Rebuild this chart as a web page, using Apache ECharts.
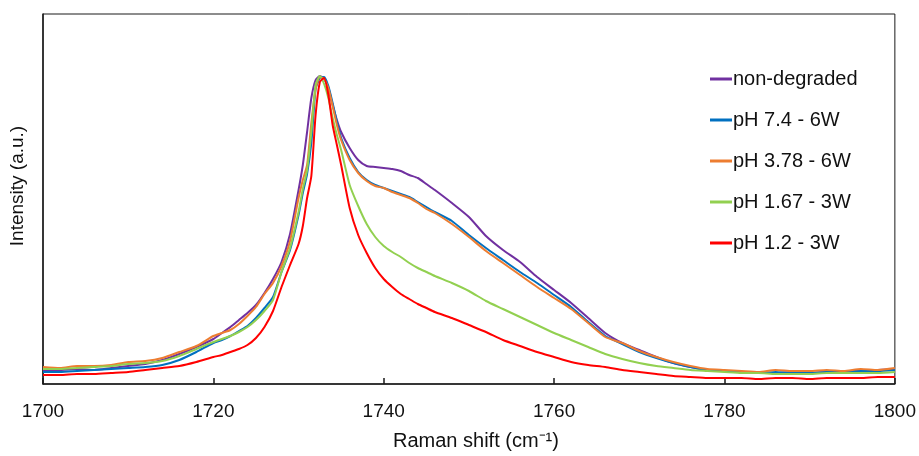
<!DOCTYPE html>
<html>
<head>
<meta charset="utf-8">
<script src="https://cdn.jsdelivr.net/npm/echarts@6/dist/echarts.min.js"></script>
<style>html,body{margin:0;padding:0;background:#fff}#c{width:919px;height:456px}</style>
</head>
<body>
<div id="c"></div>
<script>
// Raman shift (cm-1)
var shifts = [1700,1702,1704,1706,1708,1710,1712,1714,1716,1718,1720,
  1721,1722,1723,1724,1725,1726,1727,1728,1729,1730,
  1730.5,1731,1731.5,1732,1732.5,1733,1733.5,1734,1734.5,1735,
  1736,1737,1738,1739,1740,1741,1742,1743,1744,1745,
  1746,1748,1750,1752,1754,1756,1758,1760,1762,1764,
  1766,1768,1770,1772,1774,1776,1778,1780,1782,1784,
  1786,1788,1790,1792,1794,1796,1798,1800];

var seriesNames = ['non-degraded','pH 7.4 - 6W','pH 3.78 - 6W','pH 1.67 - 3W','pH 1.2 - 3W'];

// intensities (a.u.)
var nonDegraded = [13,14,15,14,16,18,20,24,30,37,45,
  51,57,64,71,79,91,105,122,150,194,
  219,252,286,304,308,305,296,279,264,252,
  236,224,218,217,216,215,213,209,206,200,
  194,181,167,148,134,122,107,94,81,66,
  51,41,34,27,21,17,14,13,12,11,
  11,12,11,12,13,13,14,15];
var pH74 = [12,12,13,14,15,16,17,19,24,32,41,
  44,48,53,58,66,76,87,112,134,169,
  191,210,241,295,306,307,298,281,262,246,
  226,212,204,199,196,193,190,187,182,177,
  172,163,149,136,124,112,101,89,77,62,
  48,40,32,26,21,17,14,13,12,11,
  12,11,11,12,12,13,13,14];
var pH378 = [17,16,18,18,19,22,23,26,32,38,48,
  51,54,60,68,77,90,101,118,143,186,
  204,219,261,295,307,305,296,278,259,244,
  224,211,203,198,196,192,189,186,181,175,
  171,160,147,133,121,109,97,86,75,61,
  47,41,33,27,22,18,15,14,13,12,
  14,13,13,14,13,15,14,16];
var pH167 = [15,15,16,17,18,20,21,23,28,35,42,
  45,48,52,57,64,73,84,112,136,172,
  195,214,252,299,308,300,286,266,249,234,
  199,178,160,147,138,132,127,121,116,112,
  108,101,93,83,75,67,59,51,44,37,
  30,25,21,18,16,14,13,12,11,11,
  10,10,10,11,11,11,11,12];
var pH12 = [9,9,10,10,11,12,14,16,18,22,27,
  29,32,35,39,46,57,73,97,119,140,
  158,186,208,269,302,306,289,259,239,219,
  176,149,131,116,105,97,90,85,80,76,
  72,66,59,52,44,38,32,27,22,19,
  17,14,12,10,8,7,6,6,6,5,
  6,6,5,6,6,6,7,7];

var colors = ['#7030A0','#0070C0','#ED7D31','#92D050','#FF0000'];
var allValues = [nonDegraded, pH74, pH378, pH167, pH12];

function pairs(vals){ return shifts.map(function(x,i){ return [x, vals[i]]; }); }

var font = 'Liberation Sans, Arial, sans-serif';
var chart = echarts.init(document.getElementById('c'));
chart.setOption({
  animation: false,
  backgroundColor: '#fff',
  grid: { left: 43, right: 24, top: 14, bottom: 72, show: true, borderColor: '#1a1a1a', borderWidth: 1, backgroundColor: 'transparent' },
  legend: {
    orient: 'vertical', left: 705, top: 64,
    icon: 'rect', itemWidth: 22, itemHeight: 3, itemGap: 21,
    textStyle: { fontFamily: font, fontSize: 20, color: '#111', lineHeight: 20, padding: [0,0,0,-4] },
    data: seriesNames
  },
  xAxis: {
    type: 'value', min: 1700, max: 1800, interval: 20,
    name: 'Raman shift (cm\u207B\u00B9)', nameLocation: 'middle', nameGap: 47,
    nameTextStyle: { fontFamily: font, fontSize: 20, color: '#111', padding: [0,0,0,14] },
    axisLine: { lineStyle: { color: '#1a1a1a', width: 1.5 } },
    axisTick: { inside: true, length: 6, lineStyle: { color: '#1a1a1a', width: 1.5 } },
    axisLabel: { margin: 18, fontFamily: font, fontSize: 19, color: '#111', formatter: function(v){ return String(v); } },
    splitLine: { show: false }
  },
  yAxis: {
    type: 'value', min: 0, max: 370,
    name: 'Intensity (a.u.)', nameLocation: 'middle', nameGap: 16,
    nameTextStyle: { fontFamily: font, fontSize: 19, color: '#111', padding: [0,0,0,26] },
    axisLine: { show: true, lineStyle: { color: '#1a1a1a', width: 1.5 } },
    axisTick: { show: false }, axisLabel: { show: false },
    splitLine: { show: false }
  },
  series: allValues.map(function(v, i){
    return {
      name: seriesNames[i], type: 'line', data: pairs(v),
      symbol: 'none', smooth: 0.2,
      lineStyle: { color: colors[i], width: 2 },
      itemStyle: { color: colors[i] },
      z: 2 + i
    };
  })
});
</script>
</body>
</html>
